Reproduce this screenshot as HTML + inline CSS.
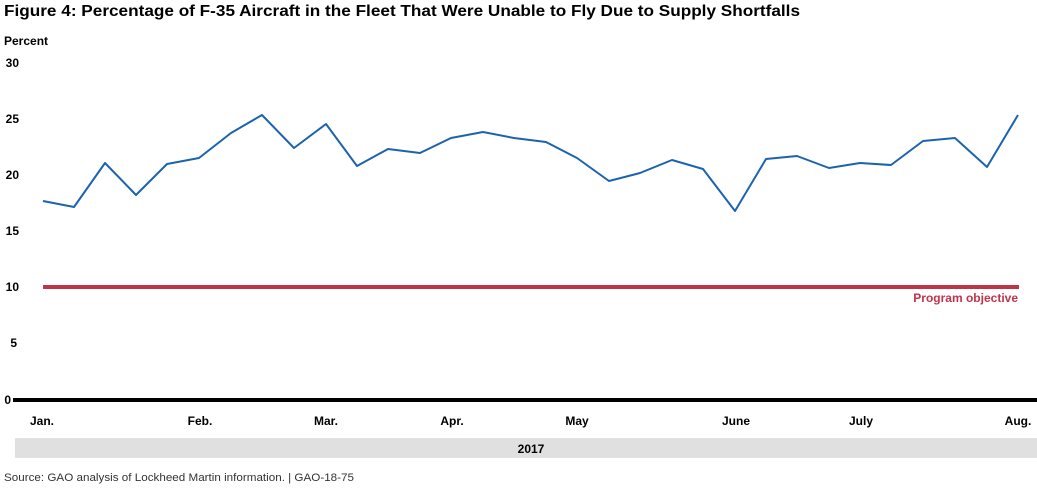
<!DOCTYPE html>
<html><head><style>
body{margin:0;background:#fff;width:1037px;height:499px;overflow:hidden;font-family:"Liberation Sans",Arial,sans-serif;}
</style></head><body>
<svg width="1037" height="499" xmlns="http://www.w3.org/2000/svg" font-family="Liberation Sans, Arial, sans-serif">
<text x="4" y="16" font-size="16" font-weight="bold" fill="#000" textLength="796" lengthAdjust="spacingAndGlyphs">Figure 4: Percentage of F-35 Aircraft in the Fleet That Were Unable to Fly Due to Supply Shortfalls</text>
<text x="4" y="45" font-size="12" font-weight="bold">Percent</text>
<g font-size="12" font-weight="bold" text-anchor="end">
<text x="19" y="67">30</text><text x="19" y="123">25</text><text x="19" y="179">20</text>
<text x="19" y="235">15</text><text x="19" y="291">10</text><text x="17" y="347">5</text><text x="11" y="404">0</text>
</g>
<rect x="13" y="398" width="1024" height="4" fill="#000"/>
<rect x="43" y="285" width="976" height="4" fill="#c0344a"/>
<text x="1018" y="302" font-size="12" font-weight="bold" fill="#c0344a" text-anchor="end">Program objective</text>
<polyline fill="none" stroke="#1b63ae" stroke-width="2" stroke-linejoin="round" points="43,201 74,207 105,163 136,195 167,164 199,158 231,133 262,115 294,148 326,124 357,166 388,149 420,153 451,138 483,132 514,138 546,142 577,158 609,181 640,173 672,160 703,169 735,211 766,159 797,156 829,168 860,163 891,165 923,141 955,138 987,167 1018,115"/>
<g font-size="12" font-weight="bold" text-anchor="middle">
<text x="42" y="425">Jan.</text><text x="200" y="425">Feb.</text><text x="326" y="425">Mar.</text>
<text x="452" y="425">Apr.</text><text x="577" y="425">May</text><text x="736" y="425">June</text>
<text x="861" y="425">July</text><text x="1018" y="425">Aug.</text>
</g>
<rect x="15" y="438" width="1022" height="20" fill="#e0e0e0"/>
<text x="531" y="453" font-size="12" font-weight="bold" text-anchor="middle">2017</text>
<text x="4" y="481" font-size="11" fill="#333" textLength="350" lengthAdjust="spacingAndGlyphs">Source: GAO analysis of Lockheed Martin information.  |  GAO-18-75</text>
</svg>
</body></html>
